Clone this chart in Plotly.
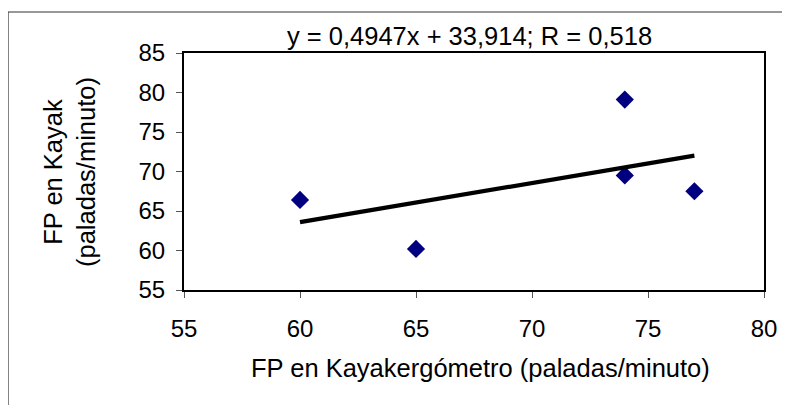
import plotly.graph_objects as go

x_vals = [60, 65, 74, 74, 77]
y_vals = [66.4, 60.2, 79.1, 69.5, 67.5]
slope = 0.4947
intercept = 33.914
title_text = "y = 0,4947x + 33,914; R = 0,518"
x_title = "FP en Kayakergómetro (paladas/minuto)"
y_title = "FP en Kayak<br>(paladas/minuto)"
x_ticks = [55, 60, 65, 70, 75, 80]
y_ticks = [55, 60, 65, 70, 75, 80, 85]

fit_x = [min(x_vals), max(x_vals)]
fit_y = [slope * v + intercept for v in fit_x]

font = "Liberation Sans, Arial, sans-serif"
OFF = 8  # page body margin
W, H = 790, 405
# desired screen positions of plot area
SL, SR, ST, SB = 184, 764, 53, 290
L, T = SL - OFF, ST - OFF
R = W - (SR - OFF)
B = H - (SB - OFF)
pw, ph = W - L - R, H - T - B

def px(x):
    return (x - OFF - L) / pw

def py(y):
    return (H - B - (y - OFF)) / ph

fig = go.Figure()
fig.add_trace(go.Scatter(x=x_vals, y=y_vals, mode="markers",
                         marker=dict(symbol="diamond", size=14, color="#000080"),
                         showlegend=False))
fig.add_trace(go.Scatter(x=fit_x, y=fit_y, mode="lines",
                         line=dict(color="black", width=4.2),
                         showlegend=False))

axis_common = dict(showgrid=False, zeroline=False, automargin=False,
                   showline=True, linecolor="black", linewidth=2, mirror=True,
                   ticks="outside", ticklen=6, tickcolor="#555", tickwidth=1,
                   tickfont=dict(size=24))

fig.update_layout(
    width=W, height=H,
    margin=dict(l=L, r=R, t=T, b=B),
    paper_bgcolor="white", plot_bgcolor="white",
    font=dict(family=font, size=24, color="black"),
    xaxis=dict(range=[55, 80], tickvals=x_ticks, ticklabelstandoff=10, **axis_common),
    yaxis=dict(range=[55, 85], tickvals=y_ticks, ticklabelstandoff=6, **axis_common),
    annotations=[
        dict(text=title_text, xref="paper", yref="paper", x=px(469), y=py(36),
             xanchor="center", yanchor="middle", showarrow=False,
             font=dict(size=25.5)),
        dict(text=x_title, xref="paper", yref="paper", x=px(480), y=py(368),
             xanchor="center", yanchor="middle", showarrow=False,
             font=dict(size=25.5)),
        dict(text=y_title, xref="paper", yref="paper", x=px(69), y=py(172),
             xanchor="center", yanchor="middle", showarrow=False, textangle=-90,
             font=dict(size=25.5)),
    ],
    shapes=[dict(type="rect", xref="paper", yref="paper",
                 x0=px(8), x1=px(810), y0=py(430), y1=py(12),
                 line=dict(color="#333", width=1.2), layer="below")],
)

fig.write_html("out.html")
